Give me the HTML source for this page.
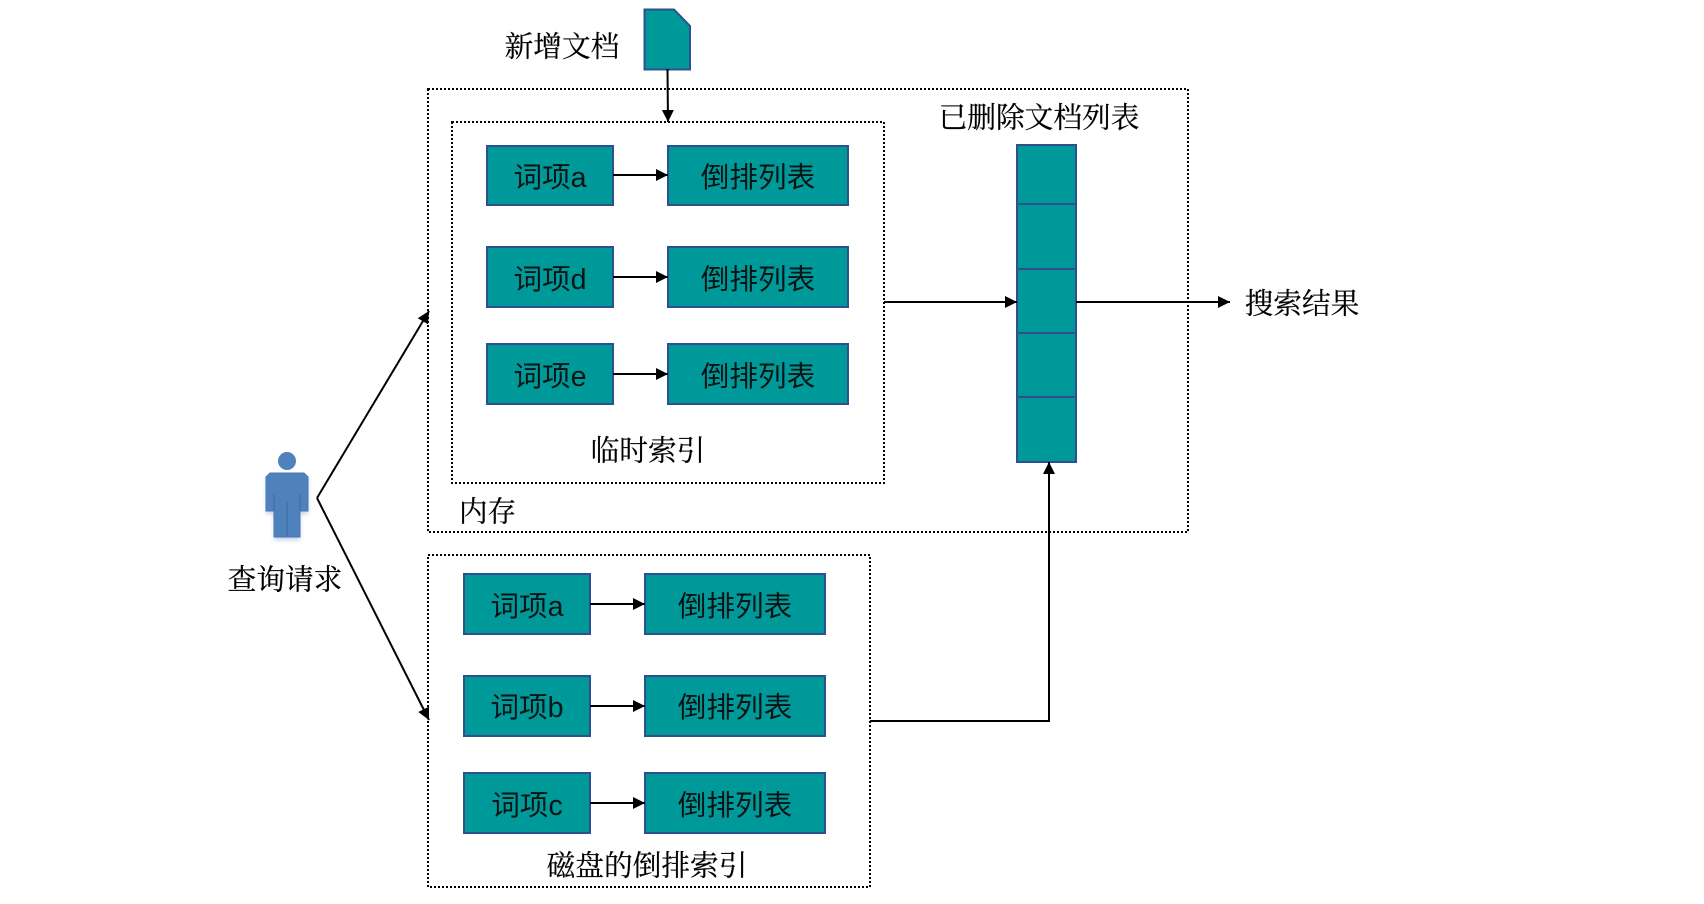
<!DOCTYPE html>
<html lang="zh-CN"><head><meta charset="utf-8"><title>索引结构</title>
<style>
html,body{margin:0;padding:0;background:#fff;width:1704px;height:904px;overflow:hidden}
svg{display:block}
.s{font-family:"Liberation Sans","Noto Sans CJK SC",sans-serif;font-size:28.600px;fill:#0a1414;text-anchor:middle}
.r{font-family:"Noto Serif CJK SC","Liberation Serif",serif;font-size:28.700px;fill:#000;stroke:#000;stroke-width:.2px;text-anchor:middle}
.b{fill:#009999;stroke:#2f5090;stroke-width:2}
.d{fill:none;stroke:#000;stroke-width:2;stroke-dasharray:2 2}
.l{fill:none;stroke:#000;stroke-width:2}
</style></head><body>
<svg width="1704" height="904" viewBox="0 0 1704 904" xmlns="http://www.w3.org/2000/svg">
<defs>
<marker id="a" markerUnits="userSpaceOnUse" markerWidth="13" markerHeight="13" refX="12" refY="6" orient="auto"><path d="M0,0 L12,6 L0,12 Z" fill="#000"/></marker>
<filter id="sh" x="-30%" y="-30%" width="160%" height="160%"><feGaussianBlur stdDeviation="2.5"/></filter>
</defs>
<rect width="1704" height="904" fill="#fff"/>

<rect class="d" x="428" y="89" width="760" height="443"/>
<rect class="d" x="452" y="122" width="432" height="361"/>
<rect class="d" x="428" y="555" width="442" height="332"/>

<!-- doc -->
<path class="b" d="M644.500,9.500 H674 L690,26 V69.500 H644.500 Z"/>
<line class="l" x1="667.500" y1="69" x2="668" y2="122" marker-end="url(#a)"/>
<text class="r" x="562" y="45" dominant-baseline="central">新增文档</text>

<!-- memory rows -->
<rect class="b" x="487" y="146" width="126" height="59"/>
<rect class="b" x="668" y="146" width="180" height="59"/>
<rect class="b" x="487" y="247" width="126" height="60"/>
<rect class="b" x="668" y="247" width="180" height="60"/>
<rect class="b" x="487" y="344" width="126" height="60"/>
<rect class="b" x="668" y="344" width="180" height="60"/>
<line class="l" x1="613" y1="175" x2="668" y2="175" marker-end="url(#a)"/>
<line class="l" x1="613" y1="277" x2="668" y2="277" marker-end="url(#a)"/>
<line class="l" x1="613" y1="374" x2="668" y2="374" marker-end="url(#a)"/>
<text class="s" x="550" y="178" dominant-baseline="central">词项a</text>
<text class="s" x="550" y="280" dominant-baseline="central">词项d</text>
<text class="s" x="550" y="377" dominant-baseline="central">词项e</text>
<text class="s" x="758" y="178" dominant-baseline="central">倒排列表</text>
<text class="s" x="758" y="280" dominant-baseline="central">倒排列表</text>
<text class="s" x="758" y="377" dominant-baseline="central">倒排列表</text>
<text class="r" x="648" y="449" dominant-baseline="central">临时索引</text>
<text class="r" x="487.500" y="510" dominant-baseline="central">内存</text>

<!-- deleted list -->
<text class="r" x="1039" y="116" dominant-baseline="central">已删除文档列表</text>
<rect class="b" x="1017" y="145" width="59" height="317"/>
<path d="M1017,204H1076M1017,269H1076M1017,333H1076M1017,397H1076" fill="none" stroke="#2f5090" stroke-width="2"/>
<line class="l" x1="884" y1="302" x2="1017" y2="302" marker-end="url(#a)"/>
<line class="l" x1="1076" y1="302" x2="1230" y2="302" marker-end="url(#a)"/>
<text class="r" x="1302" y="302" dominant-baseline="central">搜索结果</text>

<!-- disk rows -->
<rect class="b" x="464" y="574" width="126" height="60"/>
<rect class="b" x="645" y="574" width="180" height="60"/>
<rect class="b" x="464" y="676" width="126" height="60"/>
<rect class="b" x="645" y="676" width="180" height="60"/>
<rect class="b" x="464" y="773" width="126" height="60"/>
<rect class="b" x="645" y="773" width="180" height="60"/>
<line class="l" x1="590" y1="604" x2="645" y2="604" marker-end="url(#a)"/>
<line class="l" x1="590" y1="706" x2="645" y2="706" marker-end="url(#a)"/>
<line class="l" x1="590" y1="803" x2="645" y2="803" marker-end="url(#a)"/>
<text class="s" x="527" y="607" dominant-baseline="central">词项a</text>
<text class="s" x="527" y="708" dominant-baseline="central">词项b</text>
<text class="s" x="527" y="806" dominant-baseline="central">词项c</text>
<text class="s" x="735" y="607" dominant-baseline="central">倒排列表</text>
<text class="s" x="735" y="708" dominant-baseline="central">倒排列表</text>
<text class="s" x="735" y="806" dominant-baseline="central">倒排列表</text>
<text class="r" x="647" y="864" dominant-baseline="central">磁盘的倒排索引</text>
<path class="l" d="M870,721 H1049 V462" marker-end="url(#a)"/>

<!-- person -->
<g filter="url(#sh)" opacity=".35" transform="translate(0,3)"><path fill="#4f81bd" d="M270,473H304L308,477V511H300V537H274V511H266V477Z"/></g>
<circle cx="287" cy="461" r="9" fill="#4f81bd"/>
<path fill="#4f81bd" stroke="#4a78ae" stroke-width="1" d="M270,473H304L308,477V511H300V537H274V511H266V477Z"/>
<path d="M274,494V511M300,494V511M287,502V537" stroke="#3f6c9f" stroke-width="1" fill="none"/>
<text class="r" x="285" y="578" dominant-baseline="central">查询请求</text>
<line class="l" x1="317" y1="498" x2="429" y2="311" marker-end="url(#a)"/>
<line class="l" x1="317" y1="498" x2="429" y2="720" marker-end="url(#a)"/>
</svg>
</body></html>
